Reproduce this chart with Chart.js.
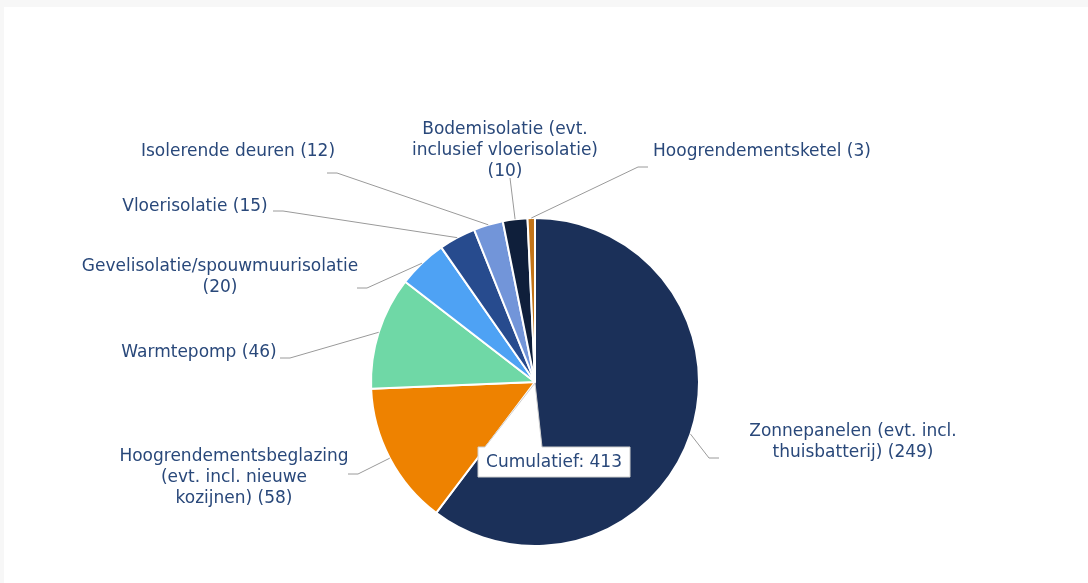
<!DOCTYPE html>
<html>
<head>
<meta charset="utf-8">
<script src="https://cdn.jsdelivr.net/npm/chart.js@4.4.1/dist/chart.umd.min.js"></script>
<style>
  html, body { margin: 0; padding: 0; background: #f7f7f7; }
  #card { position: absolute; left: 4px; top: 7px; width: 1084px; height: 576px; background: #ffffff; }
  canvas { display: block; }
</style>
</head>
<body>
<div id="card"><canvas id="pieChart" width="1084" height="576"></canvas></div>
<script>
const categories = [
    'Zonnepanelen (evt. incl. thuisbatterij)',
    'Hoogrendementsbeglazing (evt. incl. nieuwe kozijnen)',
    'Warmtepomp',
    'Gevelisolatie/spouwmuurisolatie',
    'Vloerisolatie',
    'Isolerende deuren',
    'Bodemisolatie (evt. inclusief vloerisolatie)',
    'Hoogrendementsketel'
];
const counts = [249, 58, 46, 20, 15, 12, 10, 3];
const sliceColors = ['#1b3059', '#ee8200', '#6fd8a6', '#4ea2f4', '#274b8e', '#7295d9', '#0f1f3b', '#c27418'];
const totalLabel = 'Cumulatief';

// label placement, offsets from the pie centre (tx/ty = text centre / first line, ex/ey = connector end)
const labelLayout = [
    { tx: 318, ty: 50, ex: 184, ey: 76, w: 225 },
    { tx: -301, ty: 75, ex: -187, ey: 92, w: 200 },
    { tx: -336, ty: -29, ex: -255, ey: -24, w: 300 },
    { tx: -315, ty: -115, ex: -178, ey: -94, w: 300 },
    { tx: -340, ty: -175, ex: -262, ey: -171, w: 300 },
    { tx: -297, ty: -230, ex: -208, ey: -209, w: 300 },
    { tx: -30, ty: -252, ex: -25, ey: -204, w: 215, stub: 0 },
    { tx: 227, ty: -230, ex: 113, ey: -215, w: 300 }
];

const textColor = '#29487a';
const labelFont = '17px "DejaVu Sans"';
const lineHeight = 21;

function wrap(ctx, text, maxW) {
    const words = text.split(' ');
    const lines = [];
    let cur = '';
    words.forEach(w => {
        const test = cur ? cur + ' ' + w : w;
        if (cur && ctx.measureText(test).width > maxW) {
            lines.push(cur);
            cur = w;
        } else {
            cur = test;
        }
    });
    if (cur) lines.push(cur);
    return lines;
}

const outsideLabels = {
    id: 'outsideLabels',
    afterDatasetsDraw(chart) {
        const ctx = chart.ctx;
        const arcs = chart.getDatasetMeta(0).data;
        ctx.save();
        ctx.font = labelFont;
        arcs.forEach((arc, i) => {
            const lay = labelLayout[i];
            const cx = arc.x, cy = arc.y;
            const mid = (arc.startAngle + arc.endAngle) / 2;
            const px = cx + Math.cos(mid) * arc.outerRadius;
            const py = cy + Math.sin(mid) * arc.outerRadius;
            const ex = cx + lay.ex, ey = cy + lay.ey;
            const stub = lay.stub === undefined ? 10 : lay.stub;
            const bx = ex + (lay.ex < 0 ? stub : -stub);

            ctx.strokeStyle = '#9a9a9a';
            ctx.lineWidth = 1;
            ctx.beginPath();
            ctx.moveTo(px, py);
            ctx.lineTo(bx, ey);
            ctx.lineTo(ex, ey);
            ctx.stroke();

            const text = categories[i] + ' (' + counts[i] + ')';
            const lines = wrap(ctx, text, lay.w);
            ctx.fillStyle = textColor;
            ctx.textAlign = 'center';
            ctx.textBaseline = 'middle';
            lines.forEach((ln, k) => {
                ctx.fillText(ln, cx + lay.tx, cy + lay.ty + k * lineHeight);
            });
        });
        ctx.restore();
    }
};

const totalTooltip = {
    id: 'totalTooltip',
    afterDraw(chart) {
        const ctx = chart.ctx;
        const arc = chart.getDatasetMeta(0).data[0];
        const cx = arc.x, cy = arc.y;
        const total = counts.reduce((a, b) => a + b, 0);
        const left = cx - 57, top = cy + 65, w = 152, h = 30;
        ctx.save();
        ctx.beginPath();
        ctx.moveTo(left, top);
        ctx.lineTo(cx - 50, top);
        ctx.lineTo(cx, cy + 1);
        ctx.lineTo(cx + 7, top);
        ctx.lineTo(left + w, top);
        ctx.lineTo(left + w, top + h);
        ctx.lineTo(left, top + h);
        ctx.closePath();
        ctx.fillStyle = '#ffffff';
        ctx.fill();
        ctx.strokeStyle = '#cfcfcf';
        ctx.lineWidth = 1;
        ctx.stroke();
        ctx.font = labelFont;
        ctx.fillStyle = textColor;
        ctx.textAlign = 'center';
        ctx.textBaseline = 'middle';
        ctx.fillText(totalLabel + ': ' + total, left + w / 2, top + h / 2 + 1);
        ctx.restore();
    }
};

const ctx = document.getElementById('pieChart').getContext('2d');

new Chart(ctx, {
    type: 'pie',
    data: {
        labels: categories,
        datasets: [{
            data: counts,
            backgroundColor: sliceColors,
            borderColor: '#ffffff',
            borderWidth: 2
        }]
    },
    options: {
        responsive: false,
        animation: false,
        layout: { padding: { left: 366, right: 388, top: 210, bottom: 36 } },
        plugins: {
            legend: { display: false },
            tooltip: { enabled: false }
        }
    },
    plugins: [outsideLabels, totalTooltip]
});
</script>
</body>
</html>
